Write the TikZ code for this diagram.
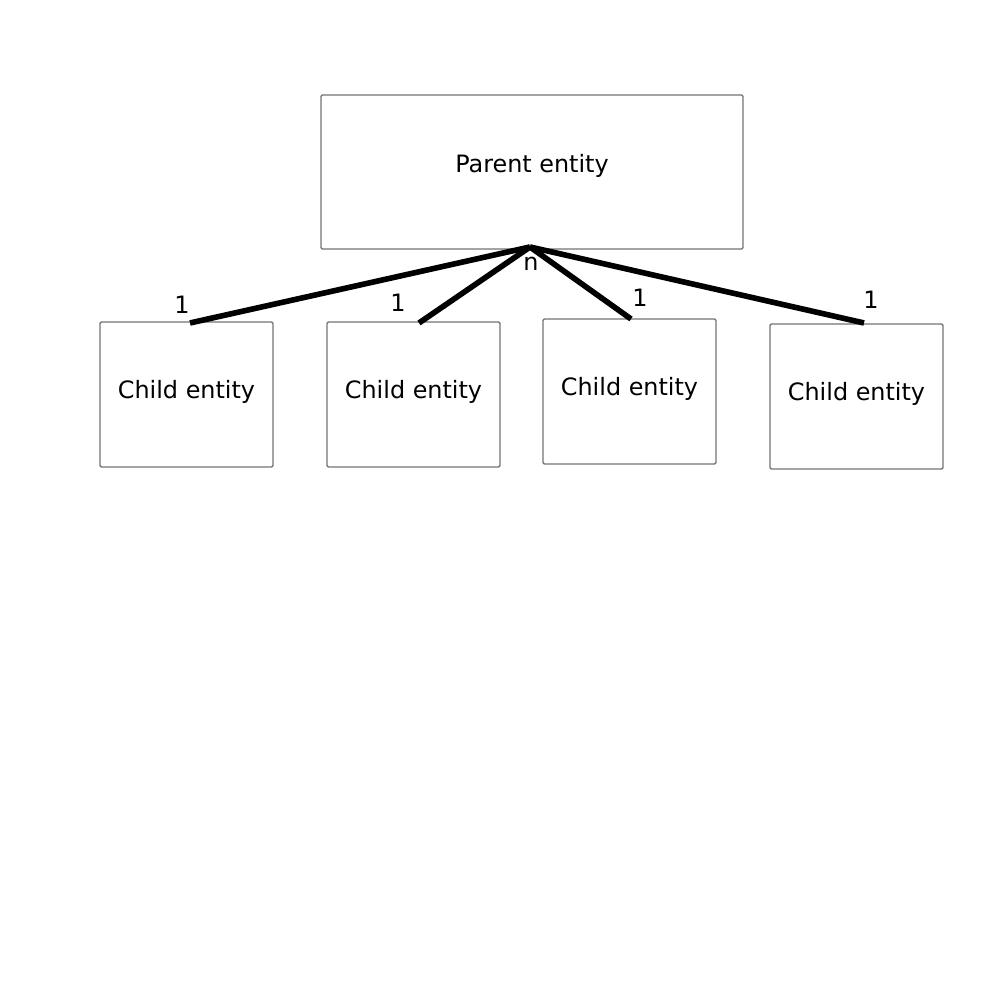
\documentclass[tikz,border=0pt]{standalone}
\usepackage{fontspec}
\setmainfont{DejaVu Sans}
\usetikzlibrary{positioning}

\tikzset{
  entity/.style={draw=black!55, line width=0.4pt, rounded corners=0.4pt, inner sep=0pt},
  link/.style={line width=1.6pt},
  card/.style={inner sep=0pt, font=\fontsize{6.8}{8}\selectfont}
}

\begin{document}
\begin{tikzpicture}
\useasboundingbox (0,0) rectangle (10,10);

\node[entity, minimum width=4.22cm, minimum height=1.54cm] (parent) at (5.32,8.28) {};
\node[card] (parentlbl) at (5.32,8.34) {Parent entity};

\node[entity, minimum width=1.73cm, minimum height=1.45cm] (child1) at (1.865,6.055) {};
\node[card] (child1lbl) at (1.865,6.08) {Child entity};

\node[entity, minimum width=1.73cm, minimum height=1.45cm] (child2) at (4.135,6.055) {};
\node[card] (child2lbl) at (4.135,6.08) {Child entity};

\node[entity, minimum width=1.73cm, minimum height=1.45cm] (child3) at (6.295,6.085) {};
\node[card] (child3lbl) at (6.295,6.11) {Child entity};

\node[entity, minimum width=1.73cm, minimum height=1.45cm] (child4) at (8.565,6.035) {};
\node[card] (child4lbl) at (8.565,6.06) {Child entity};

\coordinate (hub) at (5.30,7.53);
\coordinate (end1) at (1.90,6.77);
\coordinate (end2) at (4.19,6.77);
\coordinate (end3) at (6.31,6.81);
\coordinate (end4) at (8.64,6.77);

\draw[link] (hub) -- (end1);
\draw[link] (hub) -- (end2);
\draw[link] (hub) -- (end3);
\draw[link] (hub) -- (end4);

\node[card] (many) at (5.31,7.36) {n};
\node[card] (one1) at (1.82,6.95) {1};
\node[card] (one2) at (3.98,6.97) {1};
\node[card] (one3) at (6.40,7.02) {1};
\node[card] (one4) at (8.71,7.00) {1};

\end{tikzpicture}
\end{document}
